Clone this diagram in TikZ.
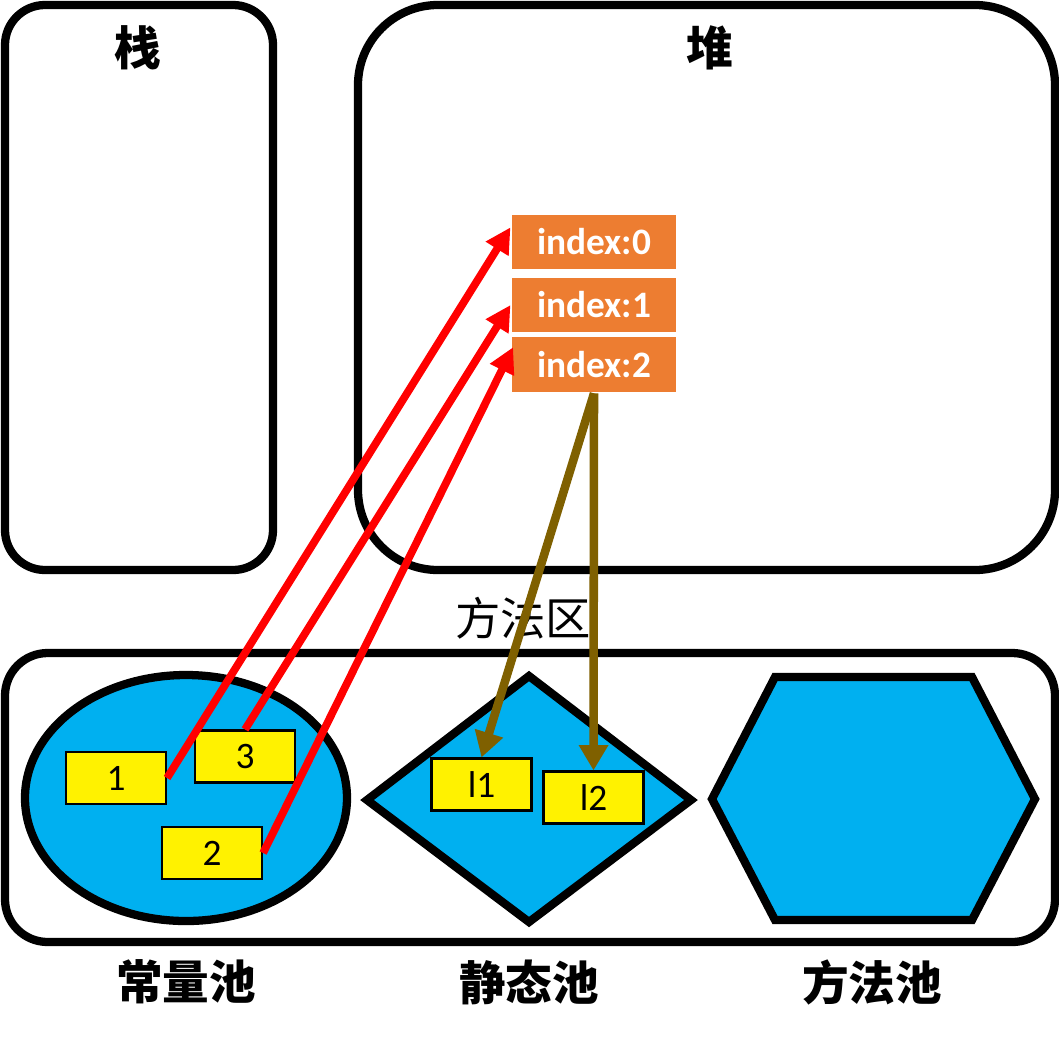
\documentclass[tikz,border=0pt]{standalone}
\usepackage{fontspec}
\setmainfont{Carlito}
\newfontfamily\cjk{Noto Sans CJK SC}
\usetikzlibrary{arrows.meta}
\definecolor{pool-blue}{HTML}{00B0F0}
\definecolor{cell-orange}{HTML}{ED7D31}
\definecolor{ref-red}{HTML}{FF0000}
\definecolor{ref-brown}{HTML}{7F6000}

\begin{document}
\begin{tikzpicture}[x=0.75pt, y=-0.75pt,
      region/.style={draw=black, line width=6.2pt},
      pool/.style={draw=black, fill=pool-blue, line width=6.2pt, line join=miter},
      title/.style={font=\cjk\bfseries\fontsize{35}{40}\selectfont},
      cell/.style={draw=white, line width=0.8pt, fill=cell-orange, text=white,
          font=\bfseries\fontsize{28}{32}\selectfont, inner sep=0pt,
          minimum width=124.5pt, minimum height=42pt},
      const/.style={draw=black, line width=1.6pt, fill=yellow, inner sep=0pt,
          font=\fontsize{28}{32}\selectfont, minimum width=75pt, minimum height=39pt},
      redref/.style={draw=ref-red, line width=5.8pt,
          -{Triangle[length=19pt, width=19pt]}},
      brownref/.style={draw=ref-brown, line width=6.4pt,
          -{Triangle[length=19pt, width=21pt]}}]
    \useasboundingbox (0,0) rectangle (1059,1040);
    % stack and heap
    \draw[region, rounded corners=30pt] (5,5) rectangle (273,570);
    \draw[region, rounded corners=60pt] (358,5) rectangle (1055,570);
    \node[title] (stack) at (138,48) {栈};
    \node[title] (heap) at (710,48) {堆};
    % method area
    \node[title, font=\cjk\fontsize{34}{40}\selectfont] (method) at (523,618) {方法区};
    \draw[region, rounded corners=32pt] (5,653) rectangle (1055,942);
    \filldraw[pool] (186,798) ellipse (161 and 123);
    \filldraw[pool] (367,800) -- (529,676) -- (691,800) -- (529,922) -- cycle;
    \filldraw[pool] (712,799) -- (775,677) -- (972,677) -- (1035,799)
        -- (972,920) -- (775,920) -- cycle;
    \node[title] (cpool) at (186,982) {常量池};
    \node[title] (spool) at (529,982) {静态池};
    \node[title] (mpool) at (872,982) {方法池};
    % array cells in the heap
    \node[cell] (idx0) at (594,242) {index:0};
    \node[cell] (idx1) at (594,305) {index:1};
    \node[cell, minimum height=42.5pt] (idx2) at (594,364.5) {index:2};
    % constants
    \node[const] (c1) at (116,778) {1};
    \node[const] (c3) at (245,756.5) {3};
    \node[const] (c2) at (212,853) {2};
    \node[const] (l1) at (481.5,784.5) {l1};
    \node[const] (l2) at (593.5,797.5) {l2};
    % references
    \draw[redref] (c1.east) -- ([yshift=11pt]idx0.west);
    \draw[redref] (c3.north) -- (idx1.west);
    \draw[redref] (c2.east) -- ([xshift=2pt, yshift=13pt]idx2.west);
    \draw[brownref] (idx2.south) -- (l1.north);
    \draw[brownref] (idx2.south) -- (l2.north);
  \end{tikzpicture}
\end{document}
